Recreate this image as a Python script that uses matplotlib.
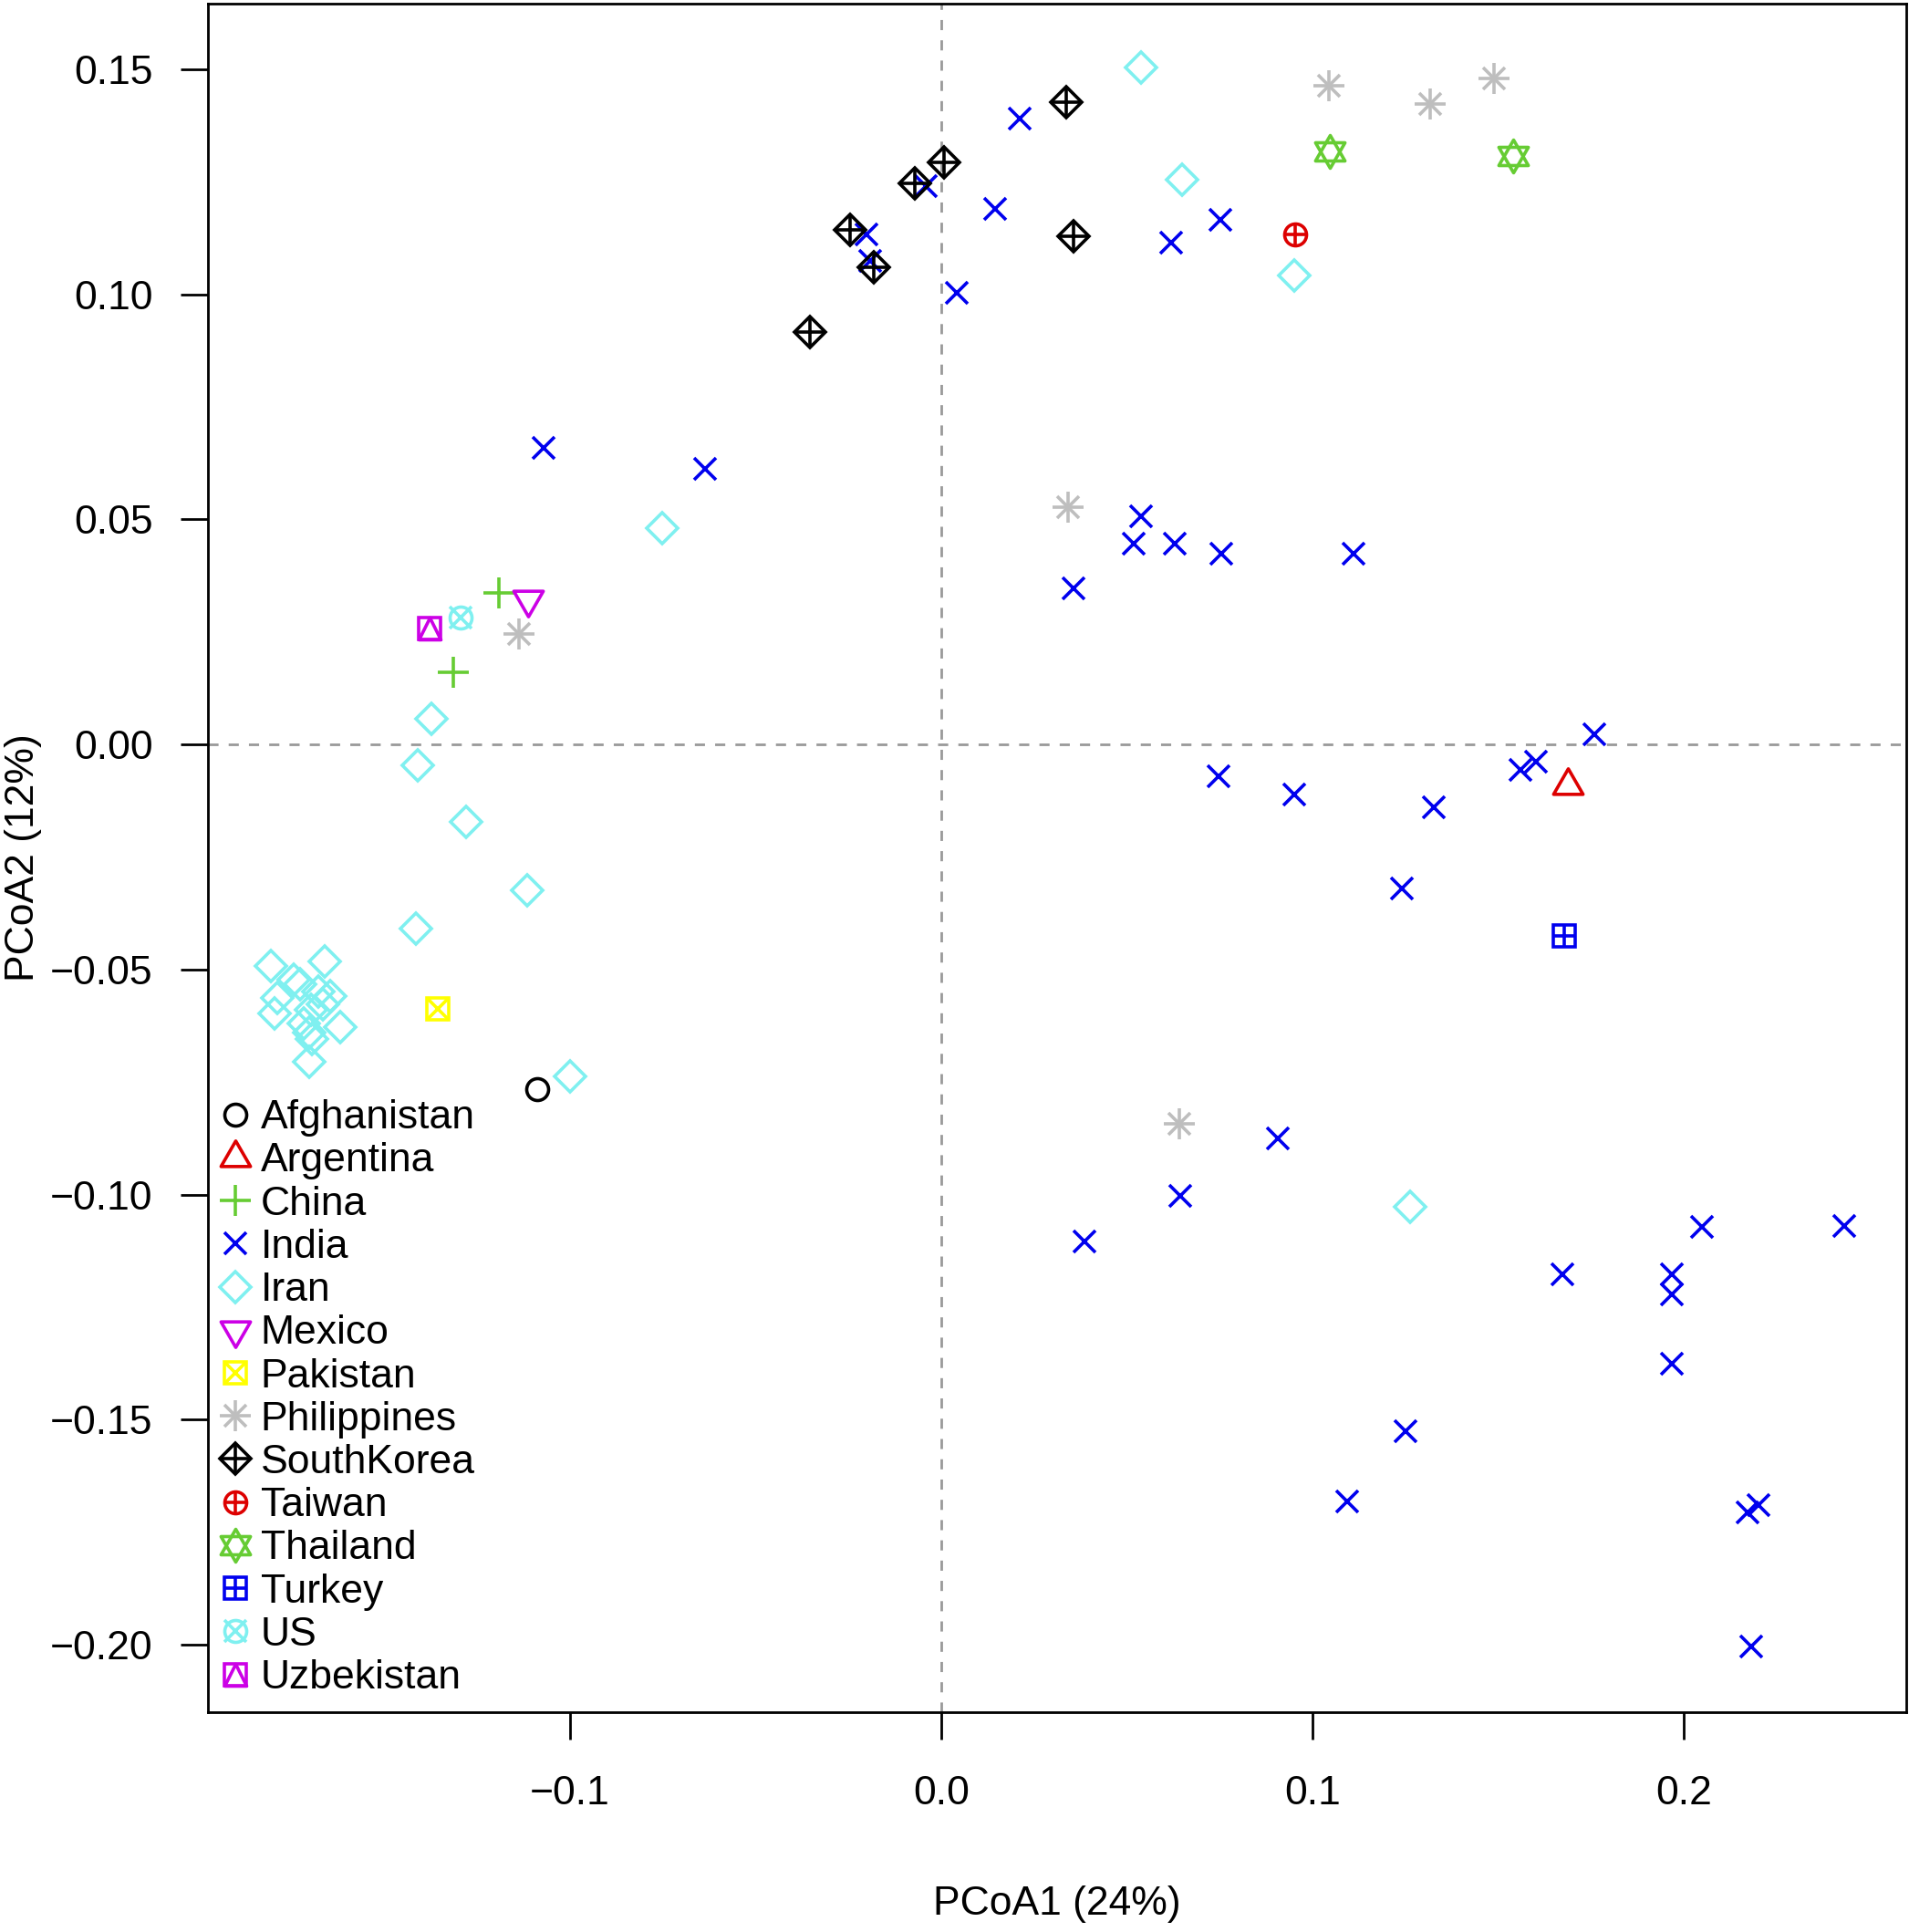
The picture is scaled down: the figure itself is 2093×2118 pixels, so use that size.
import numpy as np
import matplotlib
matplotlib.use("Agg")
import matplotlib.pyplot as plt
from matplotlib.path import Path

plt.rcParams['font.family'] = ['Liberation Sans', 'DejaVu Sans']

# PCoA coordinates, one pair of lists per country
afghanistan_x = [-0.1087]
afghanistan_y = [-0.0765]

argentina_x = [0.1689]
argentina_y = [-0.0090]

china_x = [-0.1191, -0.1314]
china_y = [0.0336, 0.0161]

india_x = [0.0213, -0.0040, 0.0146, -0.0200, -0.0190, 0.0043, 0.0619, 0.0752,
           -0.1071, -0.0635, 0.0539, 0.0519, 0.0629, 0.0755, 0.1111, 0.0356,
           0.1759, 0.1603, 0.1560, 0.0748, 0.0951, 0.1327, 0.1240, 0.0908,
           0.0645, 0.0386, 0.2049, 0.2431, 0.1673, 0.1969, 0.1969, 0.1969,
           0.1250, 0.1094, 0.2202, 0.2172, 0.2182]
india_y = [0.1391, 0.1241, 0.1189, 0.1134, 0.1074, 0.1003, 0.1115, 0.1165,
           0.0659, 0.0612, 0.0508, 0.0446, 0.0446, 0.0424, 0.0424, 0.0347,
           0.0022, -0.0038, -0.0057, -0.0071, -0.0112, -0.0139, -0.0320, -0.0875,
           -0.1003, -0.1104, -0.1072, -0.1069, -0.1178, -0.1178, -0.1222, -0.1375,
           -0.1525, -0.1681, -0.1689, -0.1706, -0.2004]

iran_x = [0.0539, 0.0648, 0.0951, -0.0752, -0.1373, -0.1410, -0.1280, -0.1114,
          -0.1413, -0.0998, 0.1264,
          -0.1805, -0.1660, -0.1742, -0.1726, -0.1788, -0.1676, -0.1644, -0.1664,
          -0.1795, -0.1697, -0.1619, -0.1717, -0.1701, -0.1693, -0.1701]
iran_y = [0.1504, 0.1255, 0.1042, 0.0481, 0.0057, -0.0046, -0.0172, -0.0323,
          -0.0410, -0.0738, -0.1028,
          -0.0492, -0.0482, -0.0522, -0.0533, -0.0563, -0.0549, -0.0559, -0.0577,
          -0.0597, -0.0590, -0.0627, -0.0620, -0.0641, -0.0654, -0.0704]

mexico_x = [-0.1111]
mexico_y = [0.0323]

pakistan_x = [-0.1354]
pakistan_y = [-0.0588]

philippines_x = [0.1044, 0.1317, 0.1490, 0.0343, -0.1137, 0.0642]
philippines_y = [0.1463, 0.1424, 0.1479, 0.0528, 0.0246, -0.0842]

southkorea_x = [0.0336, 0.0007, -0.0070, -0.0246, -0.0180, 0.0356, -0.0353]
southkorea_y = [0.1427, 0.1293, 0.1247, 0.1143, 0.1061, 0.1129, 0.0916]

taiwan_x = [0.0954]
taiwan_y = [0.1134]

thailand_x = [0.1048, 0.1540]
thailand_y = [0.1318, 0.1307]

turkey_x = [0.1679]
turkey_y = [-0.0426]

us_x = [-0.1294]
us_y = [0.0282]

uzbekistan_x = [-0.1377]
uzbekistan_y = [0.0257]

x_ticks = [-0.1, 0.0, 0.1, 0.2]
x_ticklabels = ['\u22120.1', '0.0', '0.1', '0.2']
y_ticks = [0.15, 0.10, 0.05, 0.00, -0.05, -0.10, -0.15, -0.20]
y_ticklabels = ['0.15', '0.10', '0.05', '0.00', '\u22120.05', '\u22120.10',
                '\u22120.15', '\u22120.20']

# R style point symbols built from simple paths (units of the symbol radius)
TRI_UP = Path([(0, 1.555), (-1.347, -0.778), (1.347, -0.778), (0, 1.555)], closed=True)
TRI_DN = Path([(0, -1.555), (-1.347, 0.778), (1.347, 0.778), (0, -1.555)], closed=True)
STAR_UP = Path([(0, 1.5), (-1.347, -0.833), (1.347, -0.833), (0, 1.5)], closed=True)
STAR_DN = Path([(0, -1.5), (-1.347, 0.833), (1.347, 0.833), (0, -1.5)], closed=True)
SQ_TRI = Path([(-1, -1), (0, 1), (1, -1), (-1, -1)], closed=True)

black = 'black'
red = '#dd0000'
green = '#66cc33'
blue = '#0000ee'
cyan = '#7ff0f0'
magenta = '#cc00e6'
yellow = '#ffff00'
gray = '#bebebe'

# (label, x, y, colour, [(marker, size in radii), ...])
countries = [
    ('Afghanistan', afghanistan_x, afghanistan_y, black, [('o', 2)]),
    ('Argentina', argentina_x, argentina_y, red, [(TRI_UP, 3.11)]),
    ('China', china_x, china_y, green, [('+', 2.83)]),
    ('India', india_x, india_y, blue, [('x', 2)]),
    ('Iran', iran_x, iran_y, cyan, [('D', 2)]),
    ('Mexico', mexico_x, mexico_y, magenta, [(TRI_DN, 3.11)]),
    ('Pakistan', pakistan_x, pakistan_y, yellow, [('s', 2), ('x', 2)]),
    ('Philippines', philippines_x, philippines_y, gray, [('x', 2), ('+', 2.83)]),
    ('SouthKorea', southkorea_x, southkorea_y, black, [('D', 2), ('+', 2.83)]),
    ('Taiwan', taiwan_x, taiwan_y, red, [('o', 2), ('+', 2)]),
    ('Thailand', thailand_x, thailand_y, green, [(STAR_UP, 3), (STAR_DN, 3)]),
    ('Turkey', turkey_x, turkey_y, blue, [('s', 2), ('+', 2)]),
    ('US', us_x, us_y, cyan, [('o', 2), ('x', 2)]),
    ('Uzbekistan', uzbekistan_x, uzbekistan_y, magenta, [('s', 2), (SQ_TRI, 2)]),
]

R_PT = 8.64   # symbol radius in points
W, H = 2093, 2118

fig = plt.figure(figsize=(W / 100, H / 100), dpi=100)
ax = fig.add_axes([228 / W, 1 - 1877 / H, (2090 - 228) / W, (1877 - 4) / H])

ax.axhline(0, color='#999999', lw=2.0, dashes=(4, 4), zorder=0)
ax.axvline(0, color='#999999', lw=2.0, dashes=(4, 4), zorder=0)

handles = []
labels = []
for name, xs, ys, col, layers in countries:
    parts = []
    for m, size in layers:
        ln, = ax.plot(xs, ys, linestyle='none', marker=m, ms=size * R_PT,
                      mfc='none', mec=col, mew=2.6)
        parts.append(ln)
    handles.append(tuple(parts))
    labels.append(name)

ax.set_xlim(-0.1974, 0.2599)
ax.set_ylim(-0.2150, 0.1646)
ax.set_xticks(x_ticks)
ax.set_xticklabels(x_ticklabels)
ax.set_yticks(y_ticks)
ax.set_yticklabels(y_ticklabels)

for sp in ax.spines.values():
    sp.set_linewidth(2)
ax.tick_params(length=21.6, width=2, labelsize=32)
ax.tick_params(axis='x', pad=28)
ax.tick_params(axis='y', pad=22)

ax.set_xlabel('PCoA1 (24%)', fontsize=32)
ax.xaxis.set_label_coords(0.5, (1877 - 2088) / 1873)
ax.xaxis.label.set_verticalalignment('center')
ax.set_ylabel('PCoA2 (12%)', fontsize=32)
ax.yaxis.set_label_coords((26 - 228) / 1862, 0.5)
ax.yaxis.label.set_verticalalignment('center')

ax.legend(handles, labels, loc='lower left', bbox_to_anchor=(0.004, 0.009),
          borderaxespad=0, borderpad=0, frameon=False, handlelength=1.0,
          handletextpad=0.13, labelspacing=0.14, fontsize=32, numpoints=1)

fig.savefig('out.png', dpi=100)
